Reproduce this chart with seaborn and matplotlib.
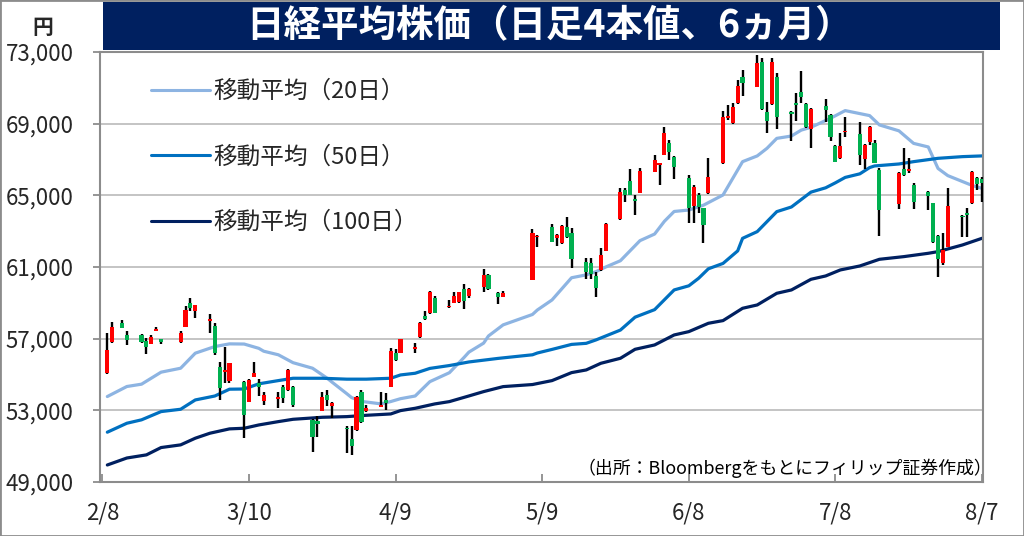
import pandas as pd
import seaborn as sns
import matplotlib.pyplot as plt
import matplotlib.dates as mdates
from matplotlib.patches import Rectangle
from matplotlib.lines import Line2D
from matplotlib.ticker import FuncFormatter
import numpy as np

# daily candles (trading days only)
days = ['2026-02-09', '2026-02-10', '2026-02-12', '2026-02-13', '2026-02-16', '2026-02-17', '2026-02-18',
        '2026-02-19', '2026-02-20', '2026-02-24', '2026-02-25', '2026-02-26', '2026-02-27', '2026-03-02',
        '2026-03-03', '2026-03-04', '2026-03-05', '2026-03-06', '2026-03-09', '2026-03-10', '2026-03-11',
        '2026-03-12', '2026-03-13', '2026-03-16', '2026-03-17', '2026-03-18', '2026-03-19', '2026-03-23',
        '2026-03-24', '2026-03-25', '2026-03-26', '2026-03-27', '2026-03-30', '2026-03-31', '2026-04-01',
        '2026-04-02', '2026-04-03', '2026-04-06', '2026-04-07', '2026-04-08', '2026-04-09', '2026-04-10',
        '2026-04-13', '2026-04-14', '2026-04-15', '2026-04-16', '2026-04-17', '2026-04-20', '2026-04-21',
        '2026-04-22', '2026-04-23', '2026-04-24', '2026-04-27', '2026-04-28', '2026-04-30', '2026-05-01',
        '2026-05-07', '2026-05-08', '2026-05-11', '2026-05-12', '2026-05-13', '2026-05-14', '2026-05-15',
        '2026-05-18', '2026-05-19', '2026-05-20', '2026-05-21', '2026-05-22', '2026-05-25', '2026-05-26',
        '2026-05-27', '2026-05-28', '2026-05-29', '2026-06-01', '2026-06-02', '2026-06-03', '2026-06-04',
        '2026-06-05', '2026-06-08', '2026-06-09', '2026-06-10', '2026-06-11', '2026-06-12', '2026-06-15',
        '2026-06-16', '2026-06-17', '2026-06-18', '2026-06-19', '2026-06-22', '2026-06-23', '2026-06-24',
        '2026-06-25', '2026-06-26', '2026-06-29', '2026-06-30', '2026-07-01', '2026-07-02', '2026-07-03',
        '2026-07-06', '2026-07-07', '2026-07-08', '2026-07-09', '2026-07-10', '2026-07-13', '2026-07-14',
        '2026-07-15', '2026-07-16', '2026-07-17', '2026-07-21', '2026-07-22', '2026-07-23', '2026-07-24',
        '2026-07-27', '2026-07-28', '2026-07-29', '2026-07-30', '2026-07-31', '2026-08-03', '2026-08-04',
        '2026-08-05', '2026-08-06', '2026-08-07']
opens = [55070, 56800, 57860, 57210, 57210, 56880, 56690, 57450, 56990, 56800, 57675, 58980, 58570, 57990,
         57730, 55440, 55160, 54610, 54600, 53490, 54880, 54550, 53540, 53620, 54320, 54140, 54320, 52460,
         52410, 52980, 53860, 53240, 52040, 51380, 51910, 54040, 52980, 53200, 53580, 54320, 56220, 56220,
         56410, 57080, 58270, 58450, 59250, 58750, 59010, 59070, 59750, 59380, 59870, 60560, 59530, 59350,
         60280, 62660, 63220, 62600, 62360, 63220, 62880, 61300, 61210, 60500, 60840, 61910, 63660, 65300,
         65800, 64800, 65150, 66320, 66690, 67250, 67940, 67160, 65950, 64410, 65020, 64280, 65110, 66790,
         69300, 69020, 70140, 71620, 71070, 72460, 69670, 70100, 71620, 69670, 70170, 70790, 70100, 68690,
         69990, 69490, 67750, 67070, 68550, 68420, 67010, 68000, 67940, 66410, 64520, 66450, 66380, 65580,
         65210, 64560, 62730, 61240, 62140, 63850, 64000, 64560, 65950, 65900]
highs = [57300, 57950, 58050, 57430, 57250, 57020, 57210, 57670, 57000, 57400, 58850, 59290, 58900, 58360,
         57860, 55690, 56560, 55650, 54650, 54750, 55720, 54730, 54040, 54040, 54400, 55300, 54350, 52500,
         52690, 54040, 54140, 53450, 52100, 52130, 53800, 54140, 53300, 54040, 53990, 56460, 56400, 57000,
         56740, 57950, 58570, 59680, 59380, 59160, 59590, 59630, 60050, 59800, 60870, 60610, 59600, 59680,
         63100, 62760, 63400, 62850, 63350, 63770, 63160, 61490, 61490, 60740, 62040, 63440, 65390, 65390,
         66450, 65020, 66510, 67250, 66800, 68830, 68090, 67200, 66140, 65580, 65150, 64300, 67070, 69710,
         70040, 70140, 71440, 72000, 72830, 72650, 70230, 72650, 71810, 69700, 70730, 71960, 70140, 69850,
         70360, 69550, 67800, 68460, 69390, 69080, 67850, 68850, 68090, 66510, 66300, 67620, 67070, 65710,
         65250, 64580, 62760, 62920, 65390, 63880, 64280, 66350, 66000, 66000]
lows = [55000, 56780, 57580, 56650, 56780, 56130, 56690, 57400, 56690, 56750, 57650, 58550, 58140, 57300,
        56090, 53580, 54510, 54510, 51440, 53450, 54850, 53800, 53300, 53110, 53390, 54100, 53200, 50700,
        51530, 52950, 53260, 52560, 50600, 50510, 51850, 52280, 52930, 53170, 53020, 54300, 55780, 56200,
        56220, 57050, 58040, 58400, 58420, 58700, 58970, 59010, 58640, 59250, 59620, 59720, 58940, 59330,
        60250, 62140, 62390, 62180, 62300, 62640, 60930, 60310, 60310, 59350, 60800, 61900, 63640, 64650,
        65000, 63900, 65130, 66300, 65580, 67230, 66970, 65890, 63480, 63440, 64000, 62360, 65050, 66750,
        69210, 69000, 70100, 70550, 71050, 69780, 68500, 70050, 68690, 68050, 69170, 70170, 68780, 67630,
        69110, 68050, 66850, 67050, 68280, 66690, 66450, 67810, 66800, 62730, 64220, 66100, 66230, 64220,
        64180, 62320, 60460, 61110, 62100, 62700, 62700, 64500, 65300, 64650]
closes = [56370, 57675, 57620, 56930, 56800, 56560, 57120, 57520, 56800, 57340, 58605, 58700, 58880, 58100,
          56190, 54230, 55260, 55630, 52750, 54700, 55070, 54320, 53860, 53770, 53670, 55250, 53300, 51530,
          52240, 53770, 53580, 53390, 51940, 51010, 53730, 52370, 53110, 53300, 53390, 56330, 55810, 56960,
          56520, 57900, 58080, 59590, 58450, 58840, 59380, 59590, 59120, 59750, 60560, 59750, 59350, 59530,
          62880, 62730, 62420, 62790, 63290, 62660, 61430, 60740, 60610, 59810, 61670, 63400, 65200, 65020,
          65020, 64700, 66380, 66970, 66790, 68460, 67440, 66600, 64280, 65490, 64330, 63350, 66040, 69390,
          69430, 69950, 71100, 71290, 72400, 69800, 69170, 72460, 69390, 69540, 70040, 70510, 68800, 69800,
          69760, 68280, 66880, 67750, 68610, 67250, 67810, 68800, 66820, 64180, 66270, 66140, 66450, 64650,
          64960, 62420, 61430, 61950, 64410, 63770, 63920, 66320, 65630, 65700]

# moving averages
ma20_days = ['2026-02-09', '2026-02-13', '2026-02-16', '2026-02-20', '2026-02-24', '2026-02-27', '2026-03-03',
             '2026-03-06', '2026-03-09', '2026-03-12', '2026-03-13', '2026-03-16', '2026-03-19', '2026-03-23',
             '2026-03-26', '2026-03-27', '2026-03-30', '2026-03-31', '2026-04-02', '2026-04-06', '2026-04-08',
             '2026-04-10', '2026-04-13', '2026-04-16', '2026-04-20', '2026-04-23', '2026-04-24', '2026-04-27',
             '2026-04-28', '2026-05-01', '2026-05-07', '2026-05-08', '2026-05-11', '2026-05-15', '2026-05-18',
             '2026-05-20', '2026-05-22', '2026-05-25', '2026-05-29', '2026-06-01', '2026-06-03', '2026-06-05',
             '2026-06-08', '2026-06-11', '2026-06-15', '2026-06-19', '2026-06-22', '2026-06-24', '2026-06-26',
             '2026-06-29', '2026-07-01', '2026-07-03', '2026-07-07', '2026-07-10', '2026-07-15', '2026-07-17',
             '2026-07-21', '2026-07-24', '2026-07-27', '2026-07-29', '2026-07-31', '2026-08-05', '2026-08-07']
ma20 = [53770, 54330, 54460, 55130, 55350, 56190, 56560, 56710, 56700, 56460, 56300, 56100, 55660, 55350,
        54790, 54570, 53930, 53710, 53500, 53360, 53490, 53650, 53800, 54600, 55100, 55950, 56250, 56750,
        57150, 57770, 58350, 58600, 59160, 60400, 60560, 60740, 61000, 61350, 62470, 62840, 63550, 64100,
        64180, 64450, 65020, 66880, 67200, 67625, 68180, 68310, 68640, 68800, 69300, 69730, 69450, 68930,
        68600, 67900, 67700, 66500, 66100, 65550, 65390]

ma50_days = ['2026-02-09', '2026-02-13', '2026-02-16', '2026-02-20', '2026-02-24', '2026-02-27', '2026-03-03',
             '2026-03-06', '2026-03-09', '2026-03-12', '2026-03-16', '2026-03-19', '2026-03-25', '2026-03-30',
             '2026-04-03', '2026-04-08', '2026-04-10', '2026-04-13', '2026-04-16', '2026-04-20', '2026-04-24',
             '2026-04-30', '2026-05-07', '2026-05-08', '2026-05-11', '2026-05-15', '2026-05-18', '2026-05-20',
             '2026-05-22', '2026-05-25', '2026-05-28', '2026-06-01', '2026-06-05', '2026-06-08', '2026-06-10',
             '2026-06-12', '2026-06-15', '2026-06-18', '2026-06-19', '2026-06-22', '2026-06-26', '2026-06-29',
             '2026-07-03', '2026-07-06', '2026-07-08', '2026-07-10', '2026-07-13', '2026-07-15', '2026-07-16',
             '2026-07-21', '2026-07-24', '2026-07-29', '2026-08-03', '2026-08-07']
ma50 = [51780, 52280, 52470, 52930, 53060, 53580, 53800, 54180, 54190, 54480, 54660, 54790, 54790, 54740,
        54740, 54790, 54975, 55070, 55340, 55500, 55700, 55900, 56100, 56200, 56400, 56680, 56740, 56930,
        57150, 57480, 58200, 58620, 59720, 59950, 60370, 60900, 61200, 61900, 62600, 62975, 64090, 64350,
        65180, 65420, 65700, 66000, 66200, 66550, 66640, 66750, 66880, 67066, 67160, 67200]

ma100_days = ['2026-02-09', '2026-02-13', '2026-02-17', '2026-02-20', '2026-02-24', '2026-02-27', '2026-03-02',
              '2026-03-06', '2026-03-09', '2026-03-12', '2026-03-16', '2026-03-19', '2026-03-25', '2026-03-30',
              '2026-04-03', '2026-04-08', '2026-04-10', '2026-04-13', '2026-04-17', '2026-04-20', '2026-04-24',
              '2026-04-27', '2026-05-01', '2026-05-07', '2026-05-11', '2026-05-15', '2026-05-18', '2026-05-21',
              '2026-05-25', '2026-05-28', '2026-06-01', '2026-06-05', '2026-06-08', '2026-06-12', '2026-06-15',
              '2026-06-19', '2026-06-22', '2026-06-26', '2026-06-29', '2026-07-03', '2026-07-06', '2026-07-07',
              '2026-07-09', '2026-07-13', '2026-07-17', '2026-07-22', '2026-07-27', '2026-07-29', '2026-08-03',
              '2026-08-07']
ma100 = [49950, 50340, 50514, 50923, 51072, 51444, 51723, 51965, 52000, 52184, 52370, 52500, 52612, 52649,
         52723, 52798, 52985, 53115, 53357, 53487, 53803, 54045, 54324, 54440, 54659, 55105, 55254, 55626,
         55905, 56407, 56649, 57207, 57393, 57859, 58008, 58696, 58882, 59533, 59719, 60314, 60500, 60612,
         60835, 61058, 61430, 61579, 61765, 61858, 62230, 62602]

ma_labels = ['移動平均（20日）', '移動平均（50日）', '移動平均（100日）']
ma_colors = ['#8db4e2', '#0070c0', '#002060']

y_ticks = list(range(49000, 73001, 4000))
x_ticks = ['2026-02-08', '2026-03-10', '2026-04-09', '2026-05-09', '2026-06-08', '2026-07-08', '2026-08-07']
###############################################################################

sns.set_theme(style="white")
plt.rcParams['font.family'] = ['Noto Sans CJK JP', 'DejaVu Sans']

# long table for the moving averages
df_ma = pd.concat([
    pd.DataFrame({'x': mdates.date2num(pd.to_datetime(d)), 'value': v, 'series': lab})
    for d, v, lab in zip([ma20_days, ma50_days, ma100_days], [ma20, ma50, ma100], ma_labels)
])

fig = plt.figure(figsize=(10.24, 5.36), dpi=100)
ax = fig.add_axes([100/1024, 1-482/536, 882.5/1024, 430/536])

sns.lineplot(data=df_ma, x='x', y='value', hue='series', hue_order=ma_labels,
             palette=dict(zip(ma_labels, ma_colors)), linewidth=2.3, legend=False, ax=ax, zorder=2)

# candles: red = up, green = down
x = mdates.date2num(pd.to_datetime(days))
o = np.array(opens); h = np.array(highs); l = np.array(lows); c = np.array(closes)
body_col = np.where(c >= o, '#ff0000', '#00b050')
ax.vlines(x, l, h, color='black', linewidth=1.7, zorder=3)
ax.bar(x, np.maximum(np.abs(c - o), 60), bottom=np.minimum(o, c), width=0.85,
       color=body_col, linewidth=0, zorder=4)

# axes
ax.set_ylim(49000, 73000)
ax.set_xlim(mdates.date2num(pd.Timestamp('2026-02-08')) - 0.5, mdates.date2num(pd.Timestamp('2026-08-07')) + 0.1)
ax.set_yticks(y_ticks)
ax.yaxis.set_major_formatter(FuncFormatter(lambda v, _: f'{int(v):,}'))
ax.set_xticks(mdates.date2num(pd.to_datetime(x_ticks)))
ax.xaxis.set_major_formatter(FuncFormatter(lambda v, _: f'{mdates.num2date(v).month}/{mdates.num2date(v).day}'))
ax.set_xlabel('')
ax.set_ylabel('')
ax.grid(axis='y', color='#bfbfbf', linewidth=1.3)
ax.set_axisbelow(True)
for s in ax.spines.values():
    s.set_color('#8c8c8c')
    s.set_linewidth(1.5)
ax.tick_params(axis='y', direction='out', length=5, width=1.3, color='#8c8c8c', pad=14, labelsize=16, left=True)
ax.tick_params(axis='x', direction='in', length=6, width=1.3, color='#8c8c8c', pad=14, labelsize=16, bottom=True)

# legend
handles = [Line2D([0], [0], color=col, linewidth=2.2) for col in ma_colors]
ax.legend(handles, ma_labels, loc='upper left', bbox_to_anchor=(0.058, 0.935), frameon=False,
          fontsize=17, handlelength=2.5, handletextpad=0.15, labelspacing=1.8, borderpad=0, borderaxespad=0)

# source note
ax.text(1.011, 0.033, '（出所：Bloombergをもとにフィリップ証券作成）', transform=ax.transAxes,
        ha='right', va='center', fontsize=12.9, color='black', zorder=5)

# title box
fig.patches.append(Rectangle((103/1024, 1-50/536), 897/1024, 48/536, transform=fig.transFigure,
                             facecolor='#002060', edgecolor='none', zorder=5))
fig.text(550/1024, 1-26/536, '日経平均株価（日足4本値、6ヵ月）', ha='center', va='center',
         color='white', fontsize=27, fontweight='bold', zorder=6)
fig.text(43/1024, 1-28/536, '円', ha='center', va='center', fontsize=15, fontweight='bold')

# outer frame
fig.patches.append(Rectangle((0, 0), 1, 1, transform=fig.transFigure, fill=False,
                             edgecolor='#8c8c8c', linewidth=2, zorder=7))

plt.savefig('out.png', dpi=100)
